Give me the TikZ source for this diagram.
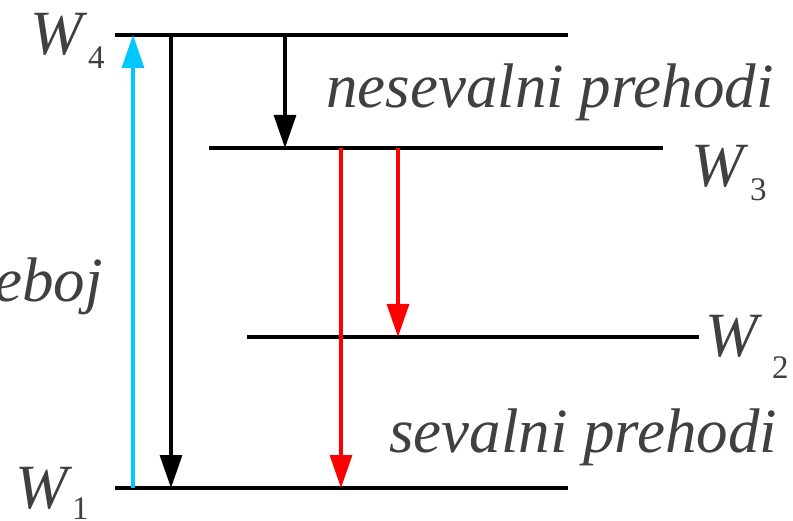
\documentclass[tikz,border=0pt]{standalone}
\usepackage{fontspec}
\newfontfamily\lblit{Liberation Serif Italic}
\newfontfamily\lblrm{Liberation Serif}
\usetikzlibrary{arrows.meta}
\definecolor{txtgray}{HTML}{404040}
\definecolor{pumpcyan}{HTML}{00C8FF}
\definecolor{radred}{HTML}{FF0000}
\begin{document}
\begin{tikzpicture}[x=1pt,y=-1pt,
  level/.style={line width=3.4pt},
  trans/.style={line width=3.2pt,-{Triangle[length=33pt,width=22pt]}},
  lbl/.style={inner sep=0pt,anchor=base west,text=txtgray,font=\lblit\fontsize{63}{63}\selectfont},
  sub/.style={inner sep=0pt,anchor=base west,text=txtgray,font=\lblrm\fontsize{33}{33}\selectfont}]
\useasboundingbox (0,0) rectangle (793,521);
% levels
\coordinate (w4l) at (115,35);  \coordinate (w4r) at (568,35);
\coordinate (w3l) at (209,148); \coordinate (w3r) at (663,148);
\coordinate (w2l) at (247,337); \coordinate (w2r) at (699,337);
\coordinate (w1l) at (115,488); \coordinate (w1r) at (568,488);
\draw[level] (w4l) -- (w4r);
\draw[level] (w3l) -- (w3r);
\draw[level] (w2l) -- (w2r);
\draw[level] (w1l) -- (w1r);
% transitions
\draw[trans,pumpcyan] (133,0 |- w1l) -- (133,0 |- w4l);
\draw[trans,black] (171,0 |- w4l) -- (171,0 |- w1l);
\draw[trans,black] (285,0 |- w4l) -- (285,0 |- w3l);
\draw[trans,radred] (341,0 |- w3l) -- (341,0 |- w1l);
\draw[trans,radred] (398,0 |- w3l) -- (398,0 |- w2l);
% labels
\node[lbl] (lw4) at (30,55) {W};
\node[sub] (s4) at (88,69) {4};
\node[lbl] (lw3) at (691,187) {W};
\node[sub] (s3) at (750,201) {3};
\node[lbl] (lw2) at (705,357) {W};
\node[sub] (s2) at (772,379) {2};
\node[lbl] (lw1) at (15,508) {W};
\node[sub] (s1) at (72,519) {1};
\node[lbl] (nes) at (326,108) {nesevalni prehodi};
\node[lbl] (sev) at (389,452) {sevalni prehodi};
\node[lbl] (pump) at (-6,302) {eboj};
\end{tikzpicture}
\end{document}
